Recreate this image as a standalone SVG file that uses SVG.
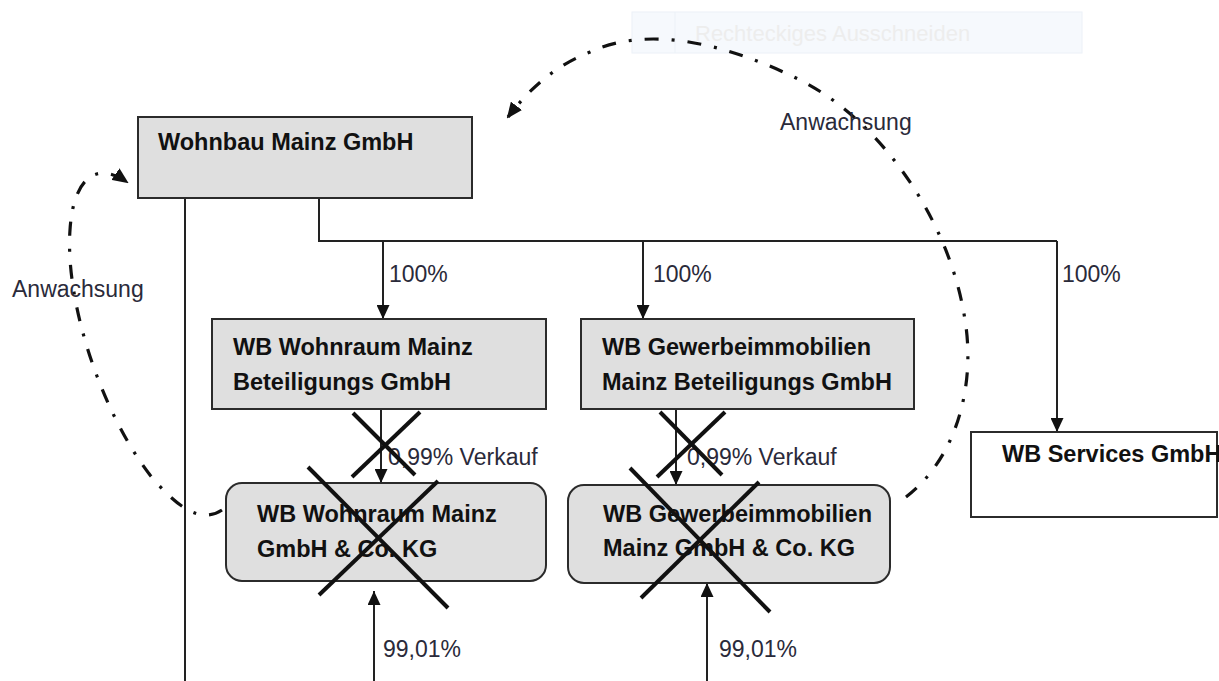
<svg xmlns="http://www.w3.org/2000/svg" width="1219" height="681" viewBox="0 0 1219 681">
<style>
.box{fill:#dfdfdf;stroke:#2b2b2b;stroke-width:2}
.wbox{fill:#ffffff;stroke:#2b2b2b;stroke-width:2}
.nt{font-family:"Liberation Sans",Arial,sans-serif;font-weight:bold;font-size:23.5px;fill:#111}
.lb{font-family:"Liberation Sans",Arial,sans-serif;font-size:23px;fill:#2a2a3a}
.ln{fill:none;stroke:#222;stroke-width:2}
.dd{fill:none;stroke:#111;stroke-width:3.2;stroke-dasharray:14 13 3 13}
.x{stroke:#111;stroke-width:4;stroke-linecap:butt}
</style>
<defs>
<marker id="ah" viewBox="0 0 14 13" refX="14" refY="6.5" markerWidth="14" markerHeight="13" markerUnits="userSpaceOnUse" orient="auto">
<path d="M0,0 L14,6.5 L0,13 z" fill="#111"/>
</marker>
<marker id="ahd" viewBox="0 0 16 14" refX="14" refY="7" markerWidth="16" markerHeight="14" markerUnits="userSpaceOnUse" orient="auto">
<path d="M0,0 L16,7 L0,14 z" fill="#111"/>
</marker>
</defs>
<rect width="1219" height="681" fill="#ffffff"/>
<g id="toolbar" opacity="0.9">
<rect x="632" y="12" width="450" height="41" fill="#f6f9fd" stroke="#eaf0f7" stroke-width="1"/>
<line x1="675" y1="12" x2="675" y2="53" stroke="#eaf0f7" stroke-width="1"/>
<text x="695" y="41" font-family="'Liberation Sans',Arial,sans-serif" font-size="22" fill="#ececec">Rechteckiges Ausschneiden</text>
</g>
<g id="connectors">
<path class="ln" d="M185,198 V681"/>
<path class="ln" d="M319,198 V241 H1057"/>
<path class="ln" d="M383,241 V319" marker-end="url(#ah)"/>
<path class="ln" d="M643,241 V319" marker-end="url(#ah)"/>
<path class="ln" d="M1057,241 V432" marker-end="url(#ah)"/>
<path class="ln" d="M381,409 V483" marker-end="url(#ah)"/>
<path class="ln" d="M676,409 V485" marker-end="url(#ah)"/>
<path class="ln" d="M374,681 V591" marker-end="url(#ah)"/>
<path class="ln" d="M707,681 V583" marker-end="url(#ah)"/>
<path class="dd" d="M222,510 C200,525 175,505 150,475 C100,410 65,300 70,230 C73,180 95,160 127,182" marker-end="url(#ahd)"/>
<path class="dd" d="M906,497 C960,455 975,380 965,320 C950,220 880,120 800,80 C730,45 650,24 590,52 C555,66 530,88 508,117" marker-end="url(#ahd)"/>
<text class="lb" x="389" y="282">100%</text>
<text class="lb" x="653" y="282">100%</text>
<text class="lb" x="1062" y="282">100%</text>
<text class="lb" x="388" y="465">0,99% Verkauf</text>
<text class="lb" x="687" y="465">0,99% Verkauf</text>
<text class="lb" x="383" y="657">99,01%</text>
<text class="lb" x="719" y="657">99,01%</text>
<text class="lb" x="780" y="130">Anwachsung</text>
<text class="lb" x="12" y="297">Anwachsung</text>
</g>
<g id="wohnbau">
<rect class="box" x="138" y="117" width="334" height="81"/>
<text class="nt" x="158" y="150">Wohnbau Mainz GmbH</text>
</g>
<g id="wohnraum-bet">
<rect class="box" x="212" y="319" width="334" height="90"/>
<text class="nt" x="233" y="355">WB Wohnraum Mainz</text>
<text class="nt" x="233" y="390">Beteiligungs GmbH</text>
</g>
<g id="gewerbe-bet">
<rect class="box" x="581" y="319" width="333" height="90"/>
<text class="nt" x="602" y="355">WB Gewerbeimmobilien</text>
<text class="nt" x="602" y="390">Mainz Beteiligungs GmbH</text>
</g>
<g id="wohnraum-kg">
<rect class="box" x="226" y="483" width="320" height="98" rx="16" ry="16"/>
<text class="nt" x="257" y="522">WB Wohnraum Mainz</text>
<text class="nt" x="257" y="557">GmbH &amp; Co. KG</text>
</g>
<g id="gewerbe-kg">
<rect class="box" x="568" y="485" width="322" height="98" rx="16" ry="16"/>
<text class="nt" x="603" y="522">WB Gewerbeimmobilien</text>
<text class="nt" x="603" y="556">Mainz GmbH &amp; Co. KG</text>
</g>
<g id="services">
<rect class="wbox" x="971" y="432" width="246" height="85"/>
<text class="nt" x="1002" y="462">WB Services GmbH</text>
</g>
<g id="crosses">
<line class="x" x1="353" y1="413" x2="415" y2="475"/>
<line class="x" x1="420" y1="412" x2="352" y2="477"/>
<line class="x" x1="660" y1="412" x2="722" y2="475"/>
<line class="x" x1="725" y1="412" x2="657" y2="477"/>
<line class="x" x1="308" y1="467" x2="448" y2="608"/>
<line class="x" x1="438" y1="481" x2="319" y2="595"/>
<line class="x" x1="630" y1="468" x2="770" y2="612"/>
<line class="x" x1="759" y1="482" x2="641" y2="598"/>
</g>
</svg>
